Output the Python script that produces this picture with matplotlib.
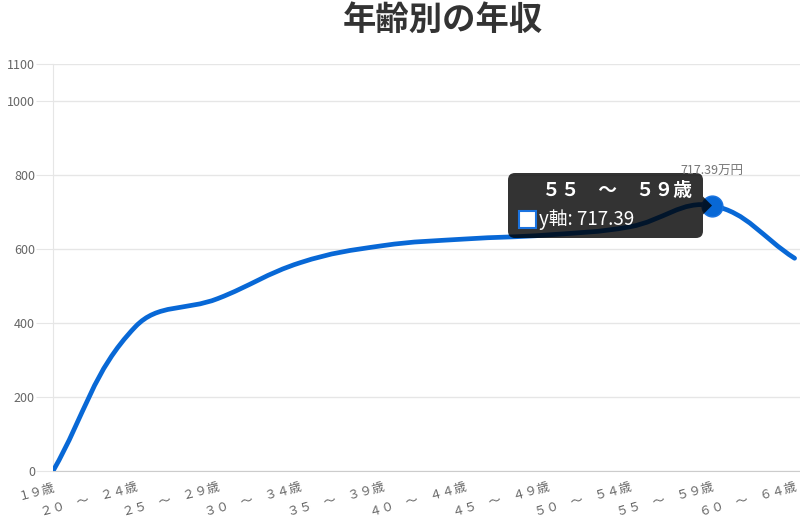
import numpy as np
import matplotlib
matplotlib.use('Agg')
import matplotlib.pyplot as plt
from matplotlib.path import Path
from matplotlib.patches import PathPatch, FancyBboxPatch, Rectangle, Polygon

plt.rcParams['font.family'] = ['Noto Sans CJK JP', 'DejaVu Sans']

# data
age_labels = ['１９歳', '２０　～　２４歳', '２５　～　２９歳', '３０　～　３４歳',
              '３５　～　３９歳', '４０　～　４４歳', '４５　～　４９歳',
              '５０　～　５４歳', '５５　～　５９歳', '６０　～　６４歳']
income = [0, 390, 466, 563, 609, 627, 638, 660, 717.39, 575]
y_ticks = [0, 200, 400, 600, 800, 1000, 1100]
highlight = 8

line_color = '#0868d6'
grid_color = '#e6e6e6'
label_color = '#666666'

fig = plt.figure(figsize=(8, 5.26), dpi=100)
W, H = 800, 526
left_px, top_px, bottom_px = 53, 64, 471
ax = fig.add_axes([left_px / W, 1 - bottom_px / H, 1 - left_px / W, (bottom_px - top_px) / H])
x = np.arange(len(income))
ax.set_xlim(0, (W - left_px) / 82.4)
ax.set_ylim(0, 1100)

for s in ['top', 'right']:
    ax.spines[s].set_visible(False)
ax.spines['left'].set_color(grid_color)
ax.spines['bottom'].set_color('#cccccc')
ax.set_yticks(y_ticks)
ax.set_yticklabels([str(v) for v in y_ticks])
ax.tick_params(axis='y', length=12, color=grid_color, pad=1, labelsize=9, labelcolor=label_color)
ax.yaxis.grid(True, color=grid_color, linewidth=1)
ax.set_axisbelow(True)
ax.set_xticks(x)
ax.set_xticklabels(age_labels, rotation=15, ha='right', rotation_mode='anchor')
ax.tick_params(axis='x', length=0, pad=7, labelsize=9, labelcolor=label_color)

# smooth line like chart.js (tension 0.4), computed in pixel space
pts = ax.transData.transform(np.column_stack([x, income]))
t = 0.4
cps = []
n = len(pts)
for i in range(n):
    prev = pts[i - 1] if i > 0 else pts[i]
    cur = pts[i]
    nxt = pts[i + 1] if i < n - 1 else pts[i]
    d01 = np.hypot(*(cur - prev))
    d12 = np.hypot(*(nxt - cur))
    tot = d01 + d12
    s01 = d01 / tot if tot else 0
    s12 = d12 / tot if tot else 0
    cps.append((cur - t * s01 * (nxt - prev), cur + t * s12 * (nxt - prev)))
verts = [pts[0]]
codes = [Path.MOVETO]
for i in range(n - 1):
    verts += [cps[i][1], cps[i + 1][0], pts[i + 1]]
    codes += [Path.CURVE4] * 3
path = Path(ax.transData.inverted().transform(np.array(verts)), codes)
ax.add_patch(PathPatch(path, fill=False, edgecolor=line_color, linewidth=3.4,
                       capstyle='round', joinstyle='round', zorder=3))

# highlighted point and its label
ax.plot(x[highlight], income[highlight], 'o', ms=15, color=line_color,
        markeredgecolor='#1a73e0', zorder=5, clip_on=False)
px, py = pts[highlight]
fig.text(px / W, (py + 34) / H, f'{income[highlight]}万円', ha='center', va='center',
         fontsize=9, color='#777777', zorder=12)

# tooltip
bx0, bx1 = 508, 703
by0, by1 = H - 238, H - 173
tt = FancyBboxPatch((bx0, by0), bx1 - bx0, by1 - by0, boxstyle='round,pad=0,rounding_size=7',
                    transform=None, facecolor=(0, 0, 0, 0.8), edgecolor='none', zorder=10)
fig.patches.append(tt)
fig.patches.append(Polygon([[bx1, py + 9], [bx1 + 9, py], [bx1, py - 9]], closed=True,
                           transform=None, facecolor=(0, 0, 0, 0.8), edgecolor='none', zorder=10))
fig.text(692 / W, (H - 191) / H, age_labels[highlight], ha='right', va='center',
         fontsize=13.5, fontweight='bold', color='white', zorder=11)
fig.patches.append(Rectangle((519, H - 228), 17, 17, transform=None, facecolor='white',
                             edgecolor='#1a73e0', linewidth=1.5, zorder=11))
fig.text(539 / W, (H - 219) / H, f'y軸: {income[highlight]}', ha='left', va='center',
         fontsize=13.5, color='white', zorder=11)

fig.text(443 / W, 1 - 20 / H, '年齢別の年収', ha='center', va='center',
         fontsize=24, fontweight='bold', color='#333333')

fig.savefig('out.png', dpi=100)
